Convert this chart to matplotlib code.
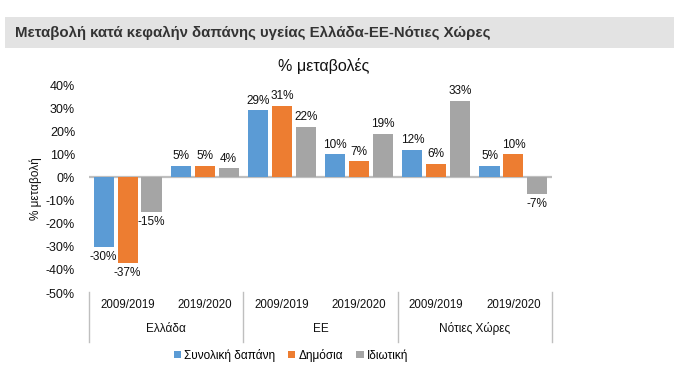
import matplotlib.pyplot as plt
import matplotlib.patches as mpatches
import numpy as np

plt.rcParams['font.family'] = ['Liberation Sans', 'DejaVu Sans']

groups = ['Ελλάδα', 'ΕΕ', 'Νότιες Χώρες']
periods = ['2009/2019', '2019/2020']
series_names = ['Συνολική δαπάνη', 'Δημόσια', 'Ιδιωτική']
total = [-30, 5, 29, 10, 12, 5]
public = [-37, 5, 31, 7, 6, 10]
private = [-15, 4, 22, 19, 33, -7]
yticks = [-50, -40, -30, -20, -10, 0, 10, 20, 30, 40]

colors = ['#5b9bd5', '#ed7d31', '#a5a5a5']
W, H = 681, 379

fig = plt.figure(figsize=(W / 100, H / 100), dpi=100)

# title band
fig.patches.append(mpatches.Rectangle((5 / W, 1 - 48 / H), 669 / W, 31 / H,
                                      transform=fig.transFigure, facecolor='#e3e3e3',
                                      edgecolor='none', zorder=0))
fig.text(15 / W, 1 - 33 / H, 'Μεταβολή κατά κεφαλήν δαπάνης υγείας Ελλάδα-ΕΕ-Νότιες Χώρες',
         fontsize=10.8, fontweight='bold', color='#333333', va='center', ha='left')
fig.text(324 / W, 1 - 66 / H, '% μεταβολές', fontsize=11.5, color='#111111',
         va='center', ha='center')

ax = fig.add_axes([89 / W, 1 - 293 / H, 463 / W, 208 / H])
x = np.arange(len(total)) + 0.5
step = 0.31
bw = 0.26
for k, vals in enumerate([total, public, private]):
    xs = x + (k - 1) * step
    ax.bar(xs, vals, bw, color=colors[k], label=series_names[k], zorder=2)
    for xi, v in zip(xs, vals):
        if v >= 0:
            ax.text(xi, v + 1.6, f'{v}%', ha='center', va='bottom', fontsize=8.5, color='#111111')
        else:
            ax.text(xi, v - 1.8, f'{v}%', ha='center', va='top', fontsize=8.5, color='#111111')

ax.axhline(0, color='#bfbfbf', lw=1.6, zorder=1)
ax.set_xlim(0, 6)
ax.set_ylim(-50, 40)
ax.set_yticks(yticks)
ax.set_yticklabels([f'{t}%' for t in yticks], fontsize=9, color='#111111')
ax.tick_params(axis='y', length=0, pad=10)
ax.set_xticks([])
for s in ax.spines.values():
    s.set_visible(False)
ax.set_ylabel('% μεταβολή', fontsize=8.5, color='#111111', labelpad=3)

trans = ax.get_xaxis_transform()
for b in [0, 2, 4, 6]:
    ax.plot([b, b], [0.005, -0.236], transform=trans, color='#bfbfbf', lw=1, clip_on=False)
for i, xi in enumerate(x):
    ax.text(xi, -0.058, periods[i % 2], transform=trans, ha='center', va='center',
            fontsize=8.3, color='#111111')
for g, name in enumerate(groups):
    ax.text(2 * g + 1, -0.173, name, transform=trans, ha='center', va='center',
            fontsize=8.5, color='#111111')

fig.legend(loc='center', bbox_to_anchor=(291 / W, 1 - 355 / H), ncol=3, frameon=False,
           fontsize=8.5, handlelength=0.6, handleheight=0.6, handletextpad=0.3,
           columnspacing=1.1)

fig.savefig('out.png', dpi=100)
